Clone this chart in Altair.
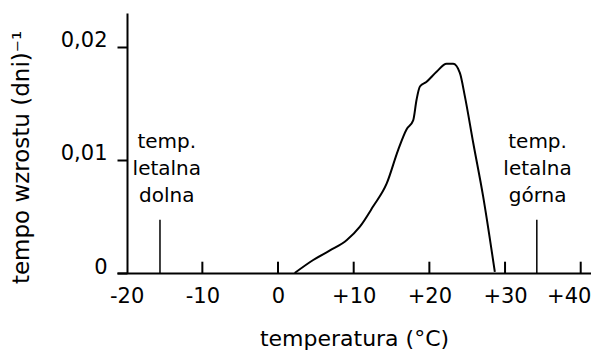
import altair as alt
import pandas as pd

# growth-rate curve (temperature °C, rate per day)
temp = [2.2, 4.65, 6.86, 9.06, 10.82, 12.58, 14.35, 15.88, 16.98, 17.86, 18.3,
        18.75, 19.6, 20.95, 22.27, 23.15, 24.03, 24.7, 25.8, 27.1, 28.65]
rate = [0.0, 0.00115, 0.0020, 0.0029, 0.0041, 0.0059, 0.0079, 0.0109, 0.0127,
        0.0135, 0.0153, 0.0165, 0.0169, 0.0178, 0.0185, 0.0185, 0.0177, 0.0156,
        0.0115, 0.0068, 0.0001]

x_ticks = [-20, -10, 0, 10, 20, 30, 40]
x_minor = [-10, 0, 10, 20, 30, 40]
y_ticks = [0, 0.01, 0.02]

lethal_x = [-15.6, 34.2]
lethal_top = [0.0047, 0.0047]
lethal_label_x = [-14.7, 34.3]
lethal_label_y = [0.0116, 0.0116]
lethal_text = ["temp.\nletalna\ndolna", "temp.\nletalna\ngórna"]

FONT = "DejaVu Sans"

xs = alt.Scale(domain=[-21.28, 41.36], nice=False, zero=False)
ys = alt.Scale(domain=[0, 0.023], nice=False, zero=False)

x_axis = alt.Axis(
    values=x_ticks, ticks=False, grid=False,
    domainColor="black", domainWidth=2,
    labelExpr="datum.value > 0 ? '+' + datum.value : '' + datum.value",
    labelFont=FONT, labelFontSize=21, labelColor="black", labelPadding=12,
    labelBaseline="top",
    labelOffset={"condition": {"test": "datum.value == 40", "value": -12}, "value": 0},
    title="temperatura (°C)", titleFont=FONT, titleFontSize=22,
    titleFontWeight="normal", titleColor="black", titlePadding=22,
)
y_axis = alt.Axis(
    values=y_ticks, grid=False, offset=-10,
    domainColor="black", domainWidth=2,
    tickColor="black", tickWidth=2, tickSize=10,
    labelExpr="datum.value == 0 ? '0' : replace(format(datum.value, '.2f'), '.', ',')",
    labelFont=FONT, labelFontSize=21, labelColor="black", labelPadding=10,
    labelBaseline="alphabetic",
    title="tempo wzrostu (dni)\u207b\u00b9", titleFont=FONT, titleFontSize=23,
    titleFontWeight="normal", titleColor="black", titlePadding=27, titleY=144,
)

curve_df = pd.DataFrame({"t": temp, "r": rate})
tick_df = pd.DataFrame({"t": x_minor, "r": [0] * len(x_minor), "r1": [0.001] * len(x_minor)})
leth_df = pd.DataFrame({"t": lethal_x, "r": [0, 0], "r1": lethal_top})
lab_df = pd.DataFrame({"t": lethal_label_x, "r": lethal_label_y, "txt": lethal_text})

X = alt.X("t:Q", scale=xs, axis=x_axis)
Y = alt.Y("r:Q", scale=ys, axis=y_axis)

curve = alt.Chart(curve_df).mark_line(
    color="black", strokeWidth=2, interpolate="monotone"
).encode(x=X, y=Y)

ticks = alt.Chart(tick_df).mark_rule(color="black", strokeWidth=2).encode(
    x=X, y=Y, y2="r1:Q",
)

leth = alt.Chart(leth_df).mark_rule(color="black", strokeWidth=1.5).encode(
    x=X, y=Y, y2="r1:Q",
)

labels = alt.Chart(lab_df).mark_text(
    font=FONT, fontSize=20, lineHeight=27, color="black",
    align="center", baseline="middle", lineBreak="\n",
).encode(x=X, y=Y, text="txt:N")

chart = alt.layer(curve, ticks, leth, labels).properties(
    width=474, height=260,
    autosize=alt.AutoSizeParams(type="none"),
    padding={"left": 109, "top": 5, "right": 0, "bottom": 80},
    background="white",
).configure_view(stroke=None)

chart.save("out.html", embed_options={"renderer": "svg", "actions": False})
